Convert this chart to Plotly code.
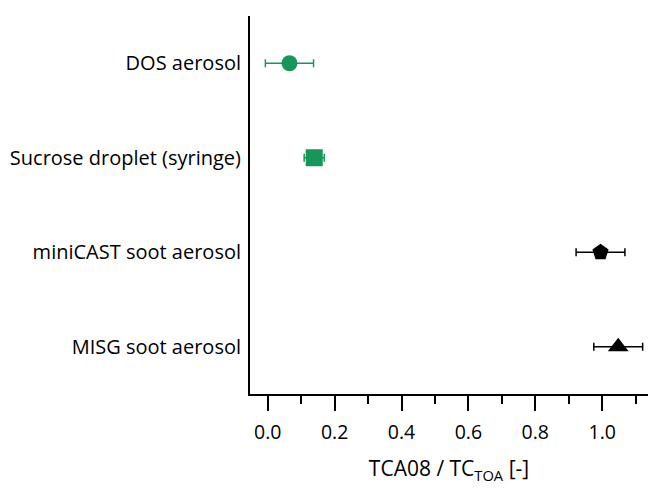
import plotly.graph_objects as go

# Samples, ratio values and symmetric uncertainties
samples = ["DOS aerosol", "Sucrose droplet (syringe)", "miniCAST soot aerosol", "MISG soot aerosol"]
ratio = [0.065, 0.139, 0.995, 1.048]
ratio_err = [0.072, 0.030, 0.073, 0.073]
symbols = ["circle", "square", "pentagon", "triangle-up"]
colors = ["#17965a", "#17965a", "#000000", "#000000"]
sizes = [16, 17, 17, 18]

positions = [3, 2, 1, 0]

x_ticks = [0.0, 0.2, 0.4, 0.6, 0.8, 1.0]
x_ticklabels = ["0.0", "0.2", "0.4", "0.6", "0.8", "1.0"]

FONT = "Open Sans"

fig = go.Figure()
for i, name in enumerate(samples):
    fig.add_trace(go.Scatter(
        x=[ratio[i]], y=[positions[i]],
        mode="markers",
        name=name,
        marker=dict(symbol=symbols[i], size=sizes[i], color=colors[i],
                    line=dict(width=0)),
        error_x=dict(type="data", array=[ratio_err[i]], visible=True,
                     color=colors[i], thickness=1.5, width=4),
        showlegend=False,
    ))

fig.update_layout(
    width=648, height=489,
    margin=dict(l=250, r=0, t=16, b=95),
    plot_bgcolor="white", paper_bgcolor="white",
    font=dict(family=FONT, size=20, color="black"),
    xaxis=dict(
        range=[-0.053, 1.137],
        tickmode="array", tickvals=x_ticks, ticktext=x_ticklabels,
        ticks="outside", ticklen=15, tickwidth=2, tickcolor="black",
        showline=True, linewidth=2, linecolor="black",
        showgrid=False, zeroline=False,
        tickfont=dict(size=19.5),
        ticklabelstandoff=5,
        minor=dict(dtick=0.1, tick0=0, ticks="outside", ticklen=8,
                   tickwidth=1.5, tickcolor="black", showgrid=False),
        title=dict(text="TCA08 / TC<sub>TOA</sub> [-]", standoff=17,
                   font=dict(size=21)),
    ),
    yaxis=dict(
        range=[-0.5, 3.5],
        tickmode="array", tickvals=positions, ticktext=samples,
        ticks="", showline=True, linewidth=2, linecolor="black",
        showgrid=False, zeroline=False,
        ticklabelstandoff=3,
    ),
)

fig.write_html("out.html")
